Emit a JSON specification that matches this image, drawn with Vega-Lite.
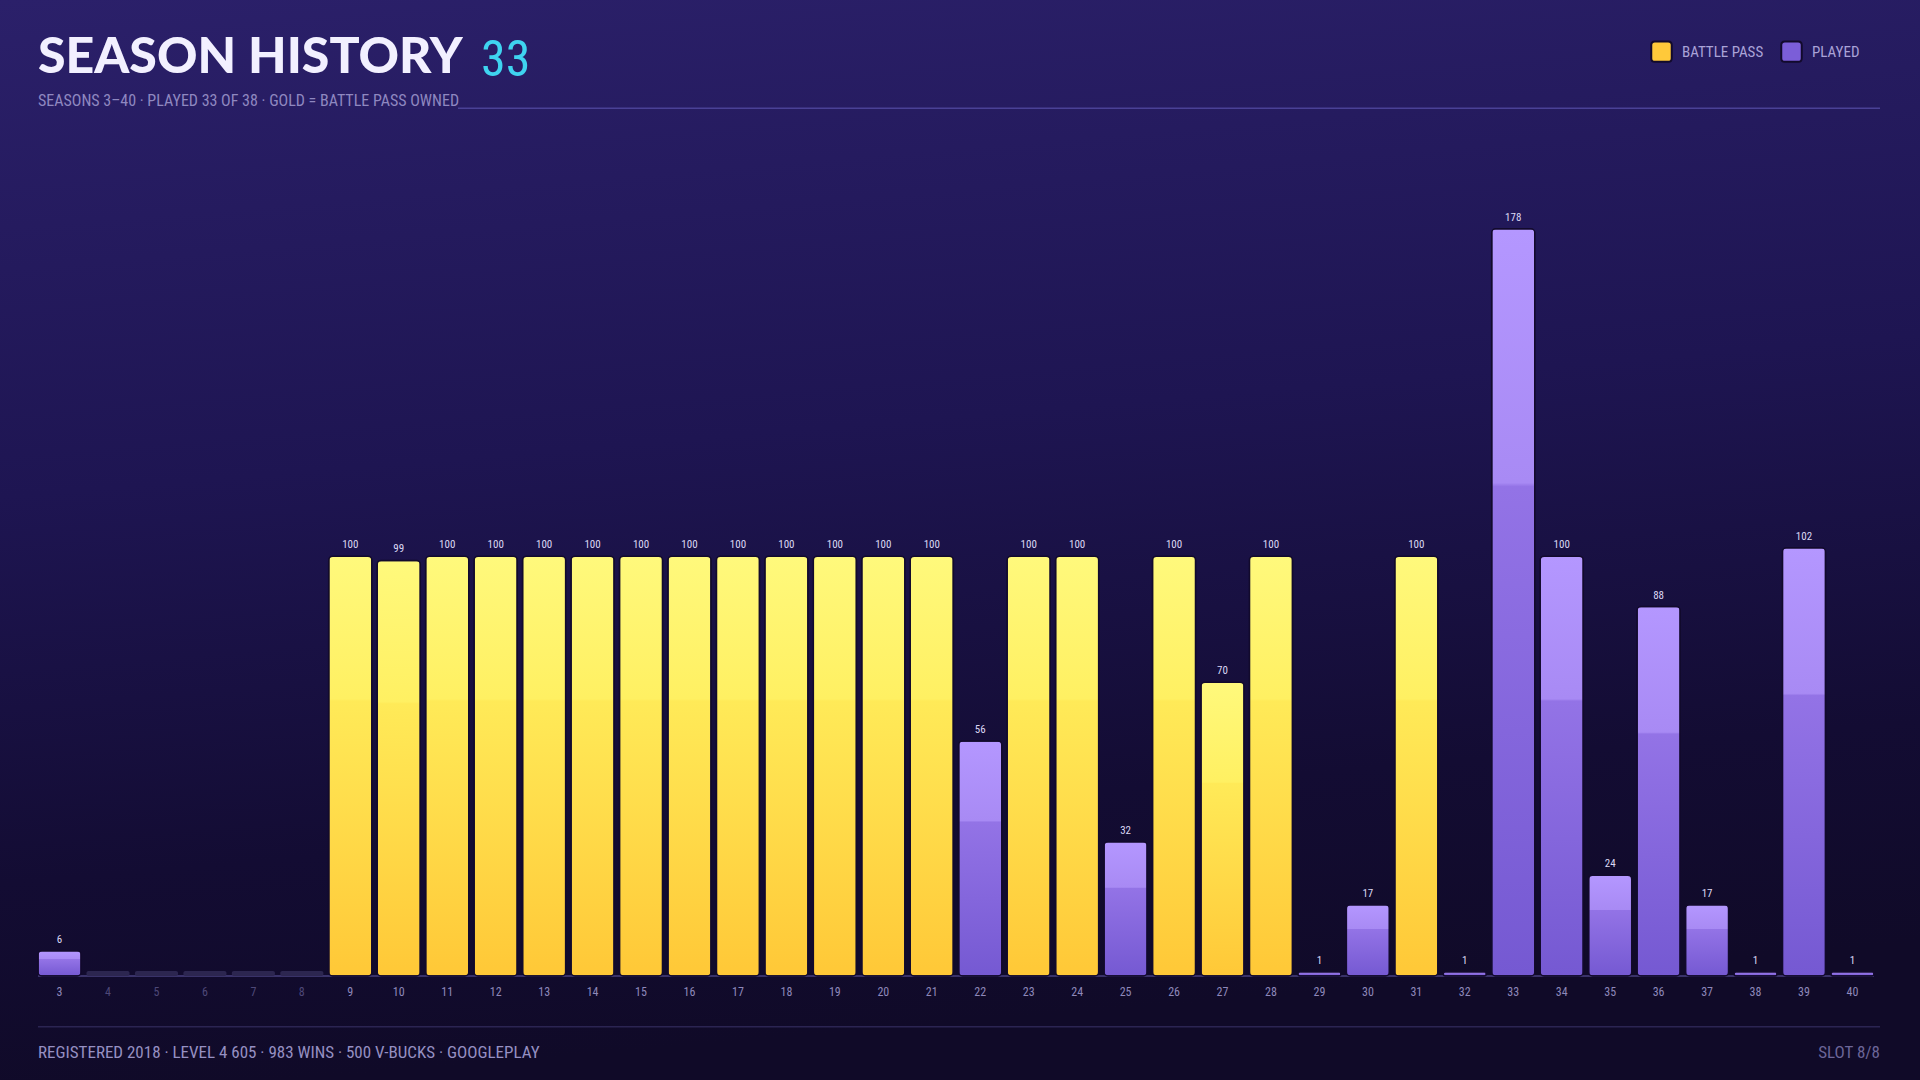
{
  "$schema": "https://vega.github.io/schema/vega-lite/v6.json",
  "description": "Season history: bar per season, gold when the battle pass was owned, purple when only played.",
  "width": 1836,
  "height": 806,
  "autosize": {"type": "none"},
  "padding": {"top": 170, "left": 38, "right": 46, "bottom": 104},
  "background": "#1b1346",
  "config": {
    "view": {"stroke": null},
    "font": "Roboto Condensed, Liberation Sans Narrow, Roboto",
    "legend": {
      "orient": "none",
      "legendX": 1612,
      "legendY": -130,
      "direction": "horizontal",
      "title": null,
      "symbolType": "M -0.65 -1 L 0.65 -1 Q 1 -1 1 -0.65 L 1 0.65 Q 1 1 0.65 1 L -0.65 1 Q -1 1 -1 0.65 L -1 -0.65 Q -1 -1 -0.65 -1 Z",
      "symbolSize": 420,
      "symbolOpacity": 1,
      "symbolStrokeColor": "#120a2c",
      "symbolStrokeWidth": 2,
      "labelFont": "Roboto Condensed, Liberation Sans Narrow, Roboto",
      "labelFontSize": 15,
      "labelColor": "#aaa3d8",
      "labelOffset": 9,
      "columnPadding": 13
    }
  },
  "data": {
    "values": [
      {"season": 3, "value": 6, "kind": "PLAYED"},
      {"season": 4, "value": null, "kind": "NOT PLAYED"},
      {"season": 5, "value": null, "kind": "NOT PLAYED"},
      {"season": 6, "value": null, "kind": "NOT PLAYED"},
      {"season": 7, "value": null, "kind": "NOT PLAYED"},
      {"season": 8, "value": null, "kind": "NOT PLAYED"},
      {"season": 9, "value": 100, "kind": "BATTLE PASS"},
      {"season": 10, "value": 99, "kind": "BATTLE PASS"},
      {"season": 11, "value": 100, "kind": "BATTLE PASS"},
      {"season": 12, "value": 100, "kind": "BATTLE PASS"},
      {"season": 13, "value": 100, "kind": "BATTLE PASS"},
      {"season": 14, "value": 100, "kind": "BATTLE PASS"},
      {"season": 15, "value": 100, "kind": "BATTLE PASS"},
      {"season": 16, "value": 100, "kind": "BATTLE PASS"},
      {"season": 17, "value": 100, "kind": "BATTLE PASS"},
      {"season": 18, "value": 100, "kind": "BATTLE PASS"},
      {"season": 19, "value": 100, "kind": "BATTLE PASS"},
      {"season": 20, "value": 100, "kind": "BATTLE PASS"},
      {"season": 21, "value": 100, "kind": "BATTLE PASS"},
      {"season": 22, "value": 56, "kind": "PLAYED"},
      {"season": 23, "value": 100, "kind": "BATTLE PASS"},
      {"season": 24, "value": 100, "kind": "BATTLE PASS"},
      {"season": 25, "value": 32, "kind": "PLAYED"},
      {"season": 26, "value": 100, "kind": "BATTLE PASS"},
      {"season": 27, "value": 70, "kind": "BATTLE PASS"},
      {"season": 28, "value": 100, "kind": "BATTLE PASS"},
      {"season": 29, "value": 1, "kind": "PLAYED"},
      {"season": 30, "value": 17, "kind": "PLAYED"},
      {"season": 31, "value": 100, "kind": "BATTLE PASS"},
      {"season": 32, "value": 1, "kind": "PLAYED"},
      {"season": 33, "value": 178, "kind": "PLAYED"},
      {"season": 34, "value": 100, "kind": "PLAYED"},
      {"season": 35, "value": 24, "kind": "PLAYED"},
      {"season": 36, "value": 88, "kind": "PLAYED"},
      {"season": 37, "value": 17, "kind": "PLAYED"},
      {"season": 38, "value": 1, "kind": "PLAYED"},
      {"season": 39, "value": 102, "kind": "PLAYED"},
      {"season": 40, "value": 1, "kind": "PLAYED"}
    ]
  },
  "encoding": {
    "x": {
      "field": "season",
      "type": "ordinal",
      "scale": {"paddingInner": 0.11, "paddingOuter": 0},
      "axis": {
        "title": null,
        "domain": false,
        "ticks": false,
        "zindex": 1,
        "labelAngle": 0,
        "labelPadding": 10,
        "labelFontSize": 12,
        "labelColor": {"condition": {"test": "datum.value >= 4 && datum.value <= 8", "value": "#4e4878"}, "value": "#8e88ba"}
      }
    }
  },
  "layer": [
    {
      "data": {"values": [{}]},
      "mark": {
        "type": "rect",
        "x": -38,
        "x2": 1882,
        "y": -170,
        "y2": 910,
        "fill": {
          "gradient": "linear",
          "x1": 0, "y1": 0, "x2": 0.15, "y2": 1,
          "stops": [
            {"offset": 0, "color": "#2b206a"},
            {"offset": 0.45, "color": "#1e1552"},
            {"offset": 0.8, "color": "#130c33"},
            {"offset": 1, "color": "#100a28"}
          ]
        }
      },
      "encoding": {"x": null}
    },
    {
      "data": {"values": [{}]},
      "mark": {"type": "rect", "x": 420, "x2": 1842, "y": -62.5, "y2": -61, "fill": "#4a4196"},
      "encoding": {"x": null}
    },
    {
      "data": {"values": [{}]},
      "mark": {"type": "rect", "x": 0, "x2": 1842, "y": 856, "y2": 857.5, "fill": "#2b2452"},
      "encoding": {"x": null}
    },
    {
      "mark": {"type": "rule", "stroke": "#3a336a", "strokeWidth": 1.5},
      "encoding": {"x": null, "y": {"datum": 0, "type": "quantitative", "scale": {"domain": [0, 192], "nice": false}, "axis": null}}
    },
    {
      "transform": [{"filter": "datum.kind == 'NOT PLAYED'"}],
      "mark": {"type": "bar", "fill": "#2c2650", "cornerRadius": 2},
      "encoding": {
        "y": {"datum": 1.2, "type": "quantitative"},
        "y2": {"datum": 0}
      }
    },
    {
      "transform": [{"filter": "datum.kind == 'BATTLE PASS'"}],
      "mark": {
        "type": "bar",
        "cornerRadius": 4,
        "stroke": "#120a2c",
        "strokeWidth": 1.5,
        "fill": {
          "gradient": "linear",
          "x1": 0, "y1": 0, "x2": 0, "y2": 1,
          "stops": [
            {"offset": 0, "color": "#fff97c"},
            {"offset": 0.34, "color": "#fff062"},
            {"offset": 0.345, "color": "#ffea58"},
            {"offset": 1, "color": "#ffc837"}
          ]
        }
      },
      "encoding": {
        "y": {"field": "value", "type": "quantitative"}
      }
    },
    {
      "transform": [{"filter": "datum.kind == 'PLAYED'"}],
      "mark": {
        "type": "bar",
        "cornerRadius": 4,
        "stroke": "#120a2c",
        "strokeWidth": 1.5,
        "fill": {
          "gradient": "linear",
          "x1": 0, "y1": 0, "x2": 0, "y2": 1,
          "stops": [
            {"offset": 0, "color": "#b497ff"},
            {"offset": 0.34, "color": "#a88af4"},
            {"offset": 0.345, "color": "#9373e6"},
            {"offset": 1, "color": "#7559d2"}
          ]
        }
      },
      "encoding": {
        "y": {"field": "value", "type": "quantitative"}
      }
    },
    {
      "transform": [{"filter": "datum.kind != 'NOT PLAYED'"}],
      "mark": {"type": "square", "opacity": 0},
      "encoding": {
        "y": {"field": "value", "type": "quantitative"},
        "color": {
          "field": "kind",
          "type": "nominal",
          "scale": {"domain": ["BATTLE PASS", "PLAYED"], "range": ["#ffc93a", "#7b5ed8"]},
          "legend": {"symbolOpacity": 1}
        }
      }
    },
    {
      "transform": [{"filter": "datum.kind != 'NOT PLAYED'"}],
      "mark": {"type": "text", "baseline": "bottom", "dy": -6, "fontSize": 11, "fill": "#dcd8f4"},
      "encoding": {
        "y": {"field": "value", "type": "quantitative"},
        "text": {"field": "value", "type": "quantitative"}
      }
    },
    {
      "data": {"values": [{}]},
      "layer": [
        {"mark": {"type": "text", "text": "SEASON HISTORY", "x": 0, "y": -97, "align": "left", "baseline": "alphabetic", "font": "Lato", "fontWeight": 900, "fontSize": 50, "fill": "#f2f0ff"}},
        {"mark": {"type": "text", "text": "33", "x": 443, "y": -94, "align": "left", "baseline": "alphabetic", "fontSize": 50, "fill": "#3fd4f0"}},
        {"mark": {"type": "text", "text": "SEASONS 3–40  ·  PLAYED 33 OF 38  ·  GOLD = BATTLE PASS OWNED", "x": 0, "y": -69, "align": "left", "baseline": "middle", "fontSize": 16, "fill": "#8f88c0"}},
        {"mark": {"type": "text", "text": "REGISTERED 2018  ·  LEVEL 4 605  ·  983 WINS  ·  500 V-BUCKS  ·  GOOGLEPLAY", "x": 0, "y": 883, "align": "left", "baseline": "middle", "fontSize": 17, "fill": "#9690c2"}},
        {"mark": {"type": "text", "text": "SLOT 8/8", "x": 1842, "y": 883, "align": "right", "baseline": "middle", "fontSize": 17, "fill": "#6c6698"}}
      ],
      "encoding": {"x": null}
    }
  ]
}
